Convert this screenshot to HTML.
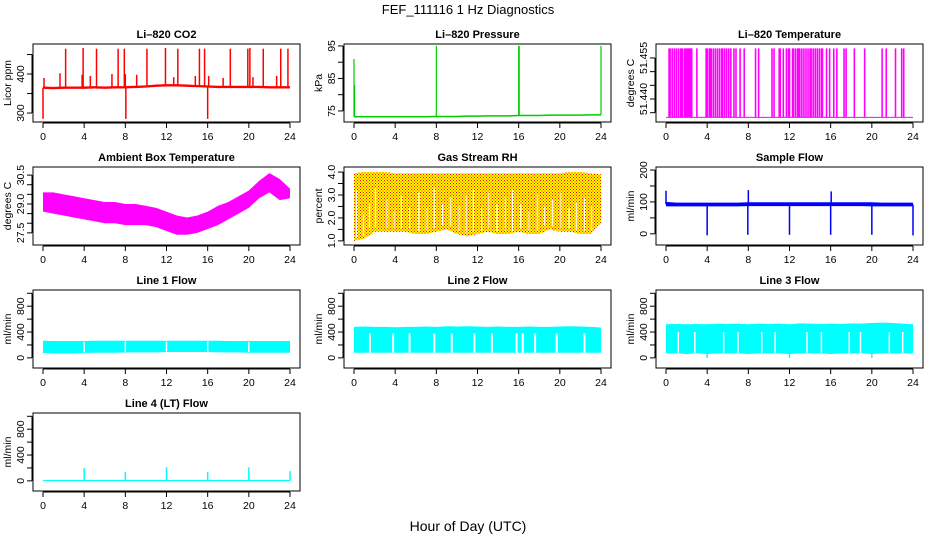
<!DOCTYPE html>
<html><head><meta charset="utf-8">
<style>
html,body{margin:0;padding:0;background:#fff;}
svg{display:block;font-family:"Liberation Sans",Helvetica,Arial,sans-serif;}
.tk{font-size:10.5px;fill:#000;}
.ttl{font-size:11px;font-weight:bold;fill:#000;}
</style></head>
<body>
<svg id="chart" width="936" height="540" viewBox="0 0 936 540" xmlns="http://www.w3.org/2000/svg">
<defs>
<pattern id="dots" width="3" height="3" patternUnits="userSpaceOnUse"><rect x="0" y="0" width="1" height="1" fill="#ff0000"/><rect x="1.5" y="1.5" width="1" height="1" fill="#ff0000"/></pattern>
</defs>
<text x="468" y="14" text-anchor="middle" font-size="13">FEF_111116  1 Hz Diagnostics</text>
<text x="468" y="531" text-anchor="middle" font-size="14">Hour of Day (UTC)</text>
</svg>
<script>
// ---- data ----
const hours = [0,1,2,3,4,5,6,7,8,9,10,11,12,13,14,15,16,17,18,19,20,21,22,23,24];
const xTicks = [0,4,8,12,16,20,24];
// CO2
const co2Base = [365,364,365,365,365,366,365,366,366,367,368,370,371,371,370,369,368,367,367,367,367,367,366,366,366];
const co2SpikeT = [2.2,3.9,5.2,7.3,7.9,10.1,11.9,13.1,15.2,15.7,18.2,19.9,20.1,21.4,23.1,23.8,1.65,3.8,4.6,6.7,8.0,9.1,12.7,14.8,17.5,20.4,22.7,0.0,8.05,16.0,0.1,16.1];
const co2SpikeV = [465,467,465,465,465,465,467,465,465,465,465,465,467,465,465,465,402,398,395,400,400,398,392,395,390,392,395,285,285,285,390,395];
// Pressure
const presBase = [73.2,73.2,73.2,73.2,73.2,73.2,73.2,73.2,73.3,73.3,73.3,73.4,73.4,73.5,73.5,73.5,73.6,73.6,73.6,73.7,73.7,73.7,73.7,73.8,73.8];
const presSpikeT = [0.0,0.05,8.0,16.0,16.05,24.0];
const presSpikeV = [91,83,95,95,95,95];
// Li-820 temperature
const tempLow = 51.4333, tempHigh = 51.4585;
const tempJumps = [0.3,0.4,0.6,0.8,1.0,1.2,1.4,1.5,1.6,1.8,1.9,2.0,2.1,2.2,2.3,2.4,2.5,3.0,3.9,4.0,4.2,4.3,4.4,4.6,4.8,5.0,5.2,5.4,5.5,5.7,5.9,6.1,6.3,6.6,6.8,7.2,7.6,8.7,9.0,10.3,10.5,11.0,11.1,11.4,11.7,11.9,12.0,12.3,12.4,12.6,12.8,12.9,13.0,13.2,13.4,13.6,13.8,14.0,14.1,14.3,14.5,14.7,14.9,15.1,15.2,15.6,15.9,16.3,16.6,17.3,17.5,18.3,19.3,21.0,21.4,22.3,22.9,23.1];
// Ambient box temperature
const ambMax = [29.6,29.6,29.5,29.4,29.3,29.2,29.1,29.1,29.0,29.0,28.9,28.8,28.6,28.4,28.3,28.4,28.6,28.9,29.1,29.4,29.7,30.2,30.6,30.3,29.8];
const ambMin = [28.6,28.5,28.4,28.3,28.2,28.1,28.0,28.0,27.9,27.9,27.9,27.8,27.6,27.4,27.4,27.5,27.7,27.9,28.2,28.5,28.8,29.3,29.6,29.2,29.3];
// RH
const rhMax = [3.95,4.0,4.0,4.0,3.95,3.95,3.95,3.95,3.95,3.95,3.95,3.95,3.95,3.95,3.95,3.95,3.95,3.95,3.95,3.95,3.95,4.0,4.0,3.95,3.9];
const rhMin = [1.0,1.1,1.4,1.4,1.4,1.4,1.3,1.3,1.4,1.5,1.3,1.2,1.3,1.4,1.3,1.3,1.4,1.3,1.3,1.5,1.4,1.4,1.3,1.3,1.8];
const rhGapT = [0.25,0.9,1.5,2.1,3.2,3.9,4.6,5.4,6.3,7.1,7.8,8.6,9.4,10.2,10.9,11.6,12.4,13.1,13.9,14.7,15.4,16.2,17.0,17.8,18.5,19.3,20.1,20.9,21.6,22.4,23.1];
const rhGapV = [3.2,2.2,2.6,3.3,2.8,2.3,3.0,2.5,3.1,2.4,3.3,2.6,2.9,2.5,3.0,3.2,2.4,3.1,2.6,2.9,3.2,2.6,2.3,3.0,2.5,2.8,3.1,2.4,2.7,2.9,2.5];
// Sample flow
const sfMax = [100,98,98,98,98,98,98,98,99,99,99,99,99,99,99,99,99,99,99,99,99,98,98,98,98];
const sfMin = [86,86,86,86,86,86,86,86,87,87,87,87,87,87,87,87,87,87,87,87,86,86,86,86,86];
const sfEventT = [0.0,4.0,7.95,8.0,12.0,16.0,16.05,20.0,24.0];
const sfEventV = [135,-5,-3,137,-3,-3,133,-3,-5];
// Line flows
const l1Max = [265,262,262,262,262,265,265,265,265,265,265,265,265,265,265,265,265,265,262,262,262,262,262,262,262];
const l1Min = [75,70,70,70,75,80,80,80,85,85,85,85,90,90,90,90,90,85,85,85,80,80,80,80,80];
const l1GapT = [4.0,8.0,12.0,16.0,20.0];
const l2Max = [480,485,480,480,475,480,480,485,480,490,485,490,485,480,485,480,480,485,480,480,485,490,485,480,470];
const l2Min = [80,80,80,80,80,80,80,80,80,80,80,80,80,80,80,80,80,80,80,80,80,80,80,80,80];
const l2GapT = [1.55,3.8,5.4,7.8,9.5,11.7,13.4,15.8,16.4,17.6,19.7,22.4];
const l3Max = [520,525,520,525,520,530,525,530,520,530,525,530,520,535,530,525,530,525,535,530,540,545,540,530,520];
const l3Min = [70,70,60,70,0,70,70,70,60,70,70,70,0,70,70,70,60,70,70,70,0,70,70,70,70];
const l3GapT = [1.2,2.8,5.6,7.0,9.3,10.6,13.7,15.1,17.8,18.9,21.7,23.0];
const l4Base = [5,5,5,5,5,5,5,5,5,5,5,5,5,5,5,5,5,5,5,5,5,5,5,5,5];
const l4SpikeT = [4,8,12,16,20,24];
const l4SpikeV = [200,140,210,140,210,150];

// ---- layout ----
const colL = [33,344,656], rowT = [44,167,290,413], W = 267, H = 78;
const svg = document.getElementById('chart');
const NS = 'http://www.w3.org/2000/svg';
function mk(tag, attrs, parent){const e=document.createElementNS(NS,tag);for(const k in attrs)e.setAttribute(k,attrs[k]);(parent||svg).appendChild(e);return e;}

function panel(name,col,row,title,ylab,dom,ticks,labels){
  const L=colL[col],T=rowT[row];
  const g=mk('g',{});
  
  
  const p={L,T,g,dom,
    x:t=>L+10+t*247/24,
    y:v=>T+H-(v-dom[0])/(dom[1]-dom[0])*H};
  const box=mk('rect',{x:L,y:T,width:W,height:H,fill:'none',stroke:'#000','stroke-width':1},g);
  
  
  const tt=mk('text',{x:L+W/2,y:T-6,'text-anchor':'middle',class:'ttl'},g);
  tt.textContent=title;
  
  
  const xa=mk('g',{},g);
  
  
  mk('line',{x1:p.x(0),x2:p.x(24),y1:T+H+1,y2:T+H+1,stroke:'#000'},xa);
  xTicks.forEach(t=>{
    mk('line',{x1:p.x(t),x2:p.x(t),y1:T+H+1,y2:T+H+6,stroke:'#000'},xa);
    const tx=mk('text',{x:p.x(t),y:T+H+18,'text-anchor':'middle',class:'tk'},xa);
    tx.textContent=t;
  });
  const ya=mk('g',{},g);
  
  
  mk('line',{x1:L-1,x2:L-1,y1:p.y(ticks[0]),y2:p.y(ticks[ticks.length-1]),stroke:'#000'},ya);
  ticks.forEach(v=>mk('line',{x1:L-6,x2:L-1,y1:p.y(v),y2:p.y(v),stroke:'#000'},ya));
  labels.forEach(l=>{
    const yy=p.y(parseFloat(l));
    const tx=mk('text',{x:L-9,y:yy,'text-anchor':'middle',class:'tk',transform:`rotate(-90 ${L-9} ${yy})`},ya);
    tx.textContent=l;
  });
  const yl=mk('text',{x:L-22,y:T+H/2,'text-anchor':'middle',class:'tk',transform:`rotate(-90 ${L-22} ${T+H/2})`},g);
  yl.textContent=ylab;
  
  
  return p;
}
function band(p,ts,mx,mn,fill,nm){
  let pts=ts.map((t,i)=>p.x(t)+','+p.y(mx[i]));
  for(let i=ts.length-1;i>=0;i--)pts.push(p.x(ts[i])+','+p.y(mn[i]));
  const e=mk('polygon',{points:pts.join(' '),fill:fill,stroke:'none'},p.g);
  
  
  return e;
}
function line(p,ts,vs,col,w,nm){
  const e=mk('polyline',{points:ts.map((t,i)=>p.x(t)+','+p.y(vs[i])).join(' '),fill:'none',stroke:col,'stroke-width':w},p.g);
  
  
}
function vl(p,t,v0,v1,col,w,nm){
  const e=mk('line',{x1:p.x(t),x2:p.x(t),y1:p.y(v0),y2:p.y(v1),stroke:col,'stroke-width':w},p.g);
  
  
}

let p=panel('co2',0,0,'Li–820 CO2','Licor ppm',[277,477],[300,350,400,450],['300','400']);
band(p,hours,co2Base.map(v=>v+3),co2Base.map(v=>v-3),'#ff0000','co2-series');
co2SpikeT.forEach((t,i)=>vl(p,t,co2Base[Math.round(t)],co2SpikeV[i],'#ff0000',1.5,'co2-spike'));
p=panel('pressure',1,0,'Li–820 Pressure','kPa',[71.6,95.6],[75,80,85,90,95],['75','85','95']);
line(p,hours,presBase,'#00cc00',1.5,'pressure-series');
presSpikeT.forEach((t,i)=>vl(p,t,presBase[Math.round(t)],presSpikeV[i],'#00cc00',1.2,'pressure-spike'));
p=panel('li820-temp',2,0,'Li–820 Temperature','degrees C',[51.4316,51.4601],[51.435,51.440,51.445,51.450,51.455],['51.440','51.455']);
line(p,[0,24],[tempLow,tempLow],'#ff00ff',1,'temp-baseline');
tempJumps.forEach(t=>vl(p,t,tempLow,tempHigh,'#ff00ff',1.6,'temp-jump'));
p=panel('ambient',0,1,'Ambient Box Temperature','degrees C',[26.87,30.92],[27.5,28,28.5,29,29.5,30,30.5],['27.5','29.0','30.5']);
band(p,hours,ambMax,ambMin,'#ff00ff','ambient-series');
p=panel('rh',1,1,'Gas Stream RH','percent',[0.82,4.22],[1,1.5,2,2.5,3,3.5,4],['1.0','2.0','3.0','4.0']);
band(p,hours,rhMax,rhMin,'#ffff00','rh-series');
band(p,hours,rhMax,rhMin,'url(#dots)','rh-dots');
rhGapT.forEach((t,i)=>vl(p,t,rhMin[Math.round(t)]+0.15,rhGapV[i],'#ffffff',1,'rh-gap'));
p=panel('sample-flow',2,1,'Sample Flow','ml/min',[-35,209.5],[0,50,100,150,200],['0','100','200']);
band(p,hours,sfMax,sfMin,'#0000ff','sample-flow-series');
sfEventT.forEach((t,i)=>vl(p,t,92,sfEventV[i],'#0000ff',1.5,'sample-flow-event'));
const lDom=[-157,1051],lTicks=[0,200,400,600,800,1000],lLab=['0','400','800'];
p=panel('line1-flow',0,2,'Line 1 Flow','ml/min',lDom,lTicks,lLab);
band(p,hours,l1Max,l1Min,'#00ffff','line1-series');
l1GapT.forEach(t=>vl(p,t,l1Min[t]+10,l1Max[t]-15,'#ffffff',1.5,'line1-gap'));
p=panel('line2-flow',1,2,'Line 2 Flow','ml/min',lDom,lTicks,lLab);
band(p,hours,l2Max,l2Min,'#00ffff','line2-series');
l2GapT.forEach(t=>vl(p,t,70,380,'#ffffff',2,'line2-gap'));
p=panel('line3-flow',2,2,'Line 3 Flow','ml/min',lDom,lTicks,lLab);
band(p,hours,l3Max,l3Min.map(v=>Math.max(v,60)),'#00ffff','line3-series');
l3Min.forEach((v,i)=>{if(v<60)vl(p,hours[i],0,200,'#00ffff',1.5,'line3-dip');});
l3GapT.forEach(t=>vl(p,t,55,400,'#ffffff',1.5,'line3-gap'));
p=panel('line4-flow',0,3,'Line 4 (LT) Flow','ml/min',lDom,lTicks,lLab);
band(p,hours,l4Base.map(v=>v+8),l4Base.map(v=>v-8),'#00ffff','line4-series');
l4SpikeT.forEach((t,i)=>vl(p,t,0,l4SpikeV[i],'#00ffff',1.5,'line4-spike'));
</script>
</body></html>
